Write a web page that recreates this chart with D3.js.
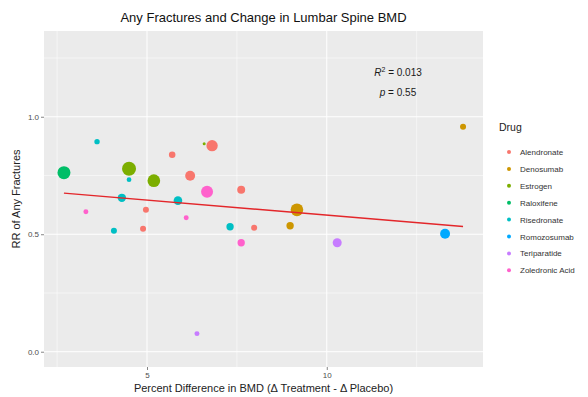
<!DOCTYPE html>
<html>
<head>
<meta charset="utf-8">
<script src="https://cdn.jsdelivr.net/npm/d3@7"></script>
<style>
  html, body { margin: 0; padding: 0; background: #fff; }
  svg { display: block; font-family: "Liberation Sans", Arial, sans-serif; }
</style>
</head>
<body>
<svg id="chart" width="588" height="397"></svg>
<script>
// Drug classes in legend order
const drugs = ["Alendronate", "Denosumab", "Estrogen", "Raloxifene",
  "Risedronate", "Romozosumab", "Teriparatide", "Zoledronic Acid"];
const drugColors = ["#F8766D", "#CD9600", "#7CAE00", "#00BE67",
  "#00BFC4", "#00A9FF", "#C77CFF", "#FF61CC"];

// One entry per trial: drug, BMD difference (%), relative risk, trial weight
const trialDrug = [
  "Raloxifene", "Risedronate", "Estrogen", "Risedronate", "Estrogen",
  "Risedronate", "Zoledronic Acid", "Alendronate", "Alendronate", "Alendronate",
  "Alendronate", "Alendronate", "Alendronate", "Alendronate", "Estrogen",
  "Risedronate", "Zoledronic Acid", "Zoledronic Acid", "Risedronate", "Zoledronic Acid",
  "Denosumab", "Denosumab", "Teriparatide", "Romozosumab", "Denosumab",
  "Teriparatide", "Risedronate"
];
const bmdDiff = [
  2.69, 3.61, 4.50, 4.50, 5.19,
  4.30, 3.30, 4.97, 4.89, 5.70,
  6.20, 6.81, 7.62, 7.98, 6.59,
  5.86, 6.67, 6.09, 7.31, 7.62,
  9.17, 8.98, 10.29, 13.29, 13.79,
  6.39, 4.08
];
const rrFracture = [
  0.762, 0.894, 0.779, 0.732, 0.728,
  0.655, 0.596, 0.604, 0.523, 0.838,
  0.749, 0.877, 0.689, 0.528, 0.885,
  0.643, 0.681, 0.570, 0.532, 0.464,
  0.604, 0.536, 0.464, 0.502, 0.957,
  0.077, 0.515
];
const trialWeight = [
  75, 13, 87, 10, 71,
  31, 11, 16, 16, 19,
  44, 57, 28, 16, 4,
  33, 64, 11, 24, 24,
  71, 24, 36, 44, 16,
  11, 16
];

// Fitted regression line over the data range
const fitX = [2.69, 13.79];
const fitY = [0.675, 0.533];

const xMajor = [5, 10];
const xMinor = [2.5, 7.5, 12.5];
const yMajor = [0, 0.5, 1.0];
const yMinor = [0.25, 0.75, 1.25];
const yTickLabels = ["0.0", "0.5", "1.0"];

const statR2 = "0.013";
const statP = "0.55";

const trials = trialDrug.map((d, i) => ({
  drug: d, x: bmdDiff[i], y: rrFracture[i], w: trialWeight[i]
}));

const svg = d3.select("#chart");
const panel = { left: 44, right: 483, top: 31, bottom: 367 };

// 5% expansion on x; y limits 0..1.3 with the same expansion
const xExt = d3.extent(bmdDiff);
const xPad = (xExt[1] - xExt[0]) * 0.05;
const x = d3.scaleLinear().domain([xExt[0] - xPad, xExt[1] + xPad])
  .range([panel.left, panel.right]);
const y = d3.scaleLinear().domain([-0.065, 1.365])
  .range([panel.bottom, panel.top]);
const r = d3.scaleSqrt().domain([0, 100]).range([0, 7.5]);
const color = d3.scaleOrdinal().domain(drugs).range(drugColors);

// Panel background
svg.append("rect")
  .attr("x", panel.left).attr("y", panel.top)
  .attr("width", panel.right - panel.left)
  .attr("height", panel.bottom - panel.top)
  .attr("fill", "#EBEBEB");

// Grid lines
const grid = svg.append("g");
grid.selectAll(".xmin").data(xMinor).join("line")
  .attr("x1", d => x(d)).attr("x2", d => x(d))
  .attr("y1", panel.top).attr("y2", panel.bottom)
  .attr("stroke", "#fff").attr("stroke-width", 0.5);
grid.selectAll(".ymin").data(yMinor).join("line")
  .attr("y1", d => y(d)).attr("y2", d => y(d))
  .attr("x1", panel.left).attr("x2", panel.right)
  .attr("stroke", "#fff").attr("stroke-width", 0.5);
grid.selectAll(".xmaj").data(xMajor).join("line")
  .attr("x1", d => x(d)).attr("x2", d => x(d))
  .attr("y1", panel.top).attr("y2", panel.bottom)
  .attr("stroke", "#fff").attr("stroke-width", 1);
grid.selectAll(".ymaj").data(yMajor).join("line")
  .attr("y1", d => y(d)).attr("y2", d => y(d))
  .attr("x1", panel.left).attr("x2", panel.right)
  .attr("stroke", "#fff").attr("stroke-width", 1);

// Axes
const xAxis = d3.axisBottom(x).tickValues(xMajor).tickSize(3).tickPadding(2)
  .tickFormat(d3.format("d"));
const yAxis = d3.axisLeft(y).tickValues(yMajor).tickSize(3).tickPadding(2)
  .tickFormat((d, i) => yTickLabels[i]);

const gx = svg.append("g").attr("transform", `translate(0,${panel.bottom})`).call(xAxis);
const gy = svg.append("g").attr("transform", `translate(${panel.left},0)`).call(yAxis);
[gx, gy].forEach(g => {
  g.select(".domain").remove();
  g.selectAll(".tick line").attr("stroke", "#333").attr("stroke-width", 0.6);
  g.selectAll(".tick text").attr("fill", "#4D4D4D").attr("font-size", 8)
    .attr("font-family", "Liberation Sans, Arial, sans-serif");
});

// Points, larger trials underneath
svg.append("g").selectAll("circle")
  .data(trials.slice().sort((a, b) => b.w - a.w))
  .join("circle")
  .attr("cx", d => x(d.x)).attr("cy", d => y(d.y))
  .attr("r", d => r(d.w))
  .attr("fill", d => color(d.drug));

// Regression line
svg.append("path")
  .datum(fitX.map((v, i) => [v, fitY[i]]))
  .attr("d", d3.line().x(d => x(d[0])).y(d => y(d[1])))
  .attr("fill", "none").attr("stroke", "#E3262A").attr("stroke-width", 1.5);

// Fit statistics
const stats = svg.append("g").attr("font-size", 10).attr("fill", "#1a1a1a");
const t1 = stats.append("text").attr("x", 398).attr("y", 76).attr("text-anchor", "middle");
t1.append("tspan").attr("font-style", "italic").text("R");
t1.append("tspan").attr("font-size", 7).attr("dy", -4).text("2");
t1.append("tspan").attr("dy", 4).text(" = " + statR2);
stats.append("text").attr("x", 398).attr("y", 96).attr("text-anchor", "middle")
  .call(t => {
    t.append("tspan").attr("font-style", "italic").text("p");
    t.append("tspan").text(" = " + statP);
  });

// Titles
svg.append("text").attr("x", (panel.left + panel.right) / 2).attr("y", 22)
  .attr("text-anchor", "middle").attr("font-size", 13).attr("fill", "#111")
  .text("Any Fractures and Change in Lumbar Spine BMD");
svg.append("text").attr("x", (panel.left + panel.right) / 2).attr("y", 392)
  .attr("text-anchor", "middle").attr("font-size", 11).attr("fill", "#222")
  .text("Percent Difference in BMD (Δ Treatment - Δ Placebo)");
svg.append("text")
  .attr("transform", `translate(20,${(panel.top + panel.bottom) / 2}) rotate(-90)`)
  .attr("text-anchor", "middle").attr("font-size", 11).attr("fill", "#222")
  .text("RR of Any Fractures");

// Legend
const legend = svg.append("g").attr("transform", "translate(499,0)");
legend.append("text").attr("x", 0).attr("y", 131)
  .attr("font-size", 10.5).attr("fill", "#222").text("Drug");
const items = legend.selectAll(".item").data(drugs).join("g")
  .attr("transform", (d, i) => `translate(0,${152 + i * 16.9})`);
items.append("circle").attr("cx", 10).attr("cy", 0).attr("r", 2)
  .attr("fill", d => color(d));
items.append("text").attr("x", 21).attr("y", 3)
  .attr("font-size", 8).attr("fill", "#333").text(d => d);
</script>
</body>
</html>
